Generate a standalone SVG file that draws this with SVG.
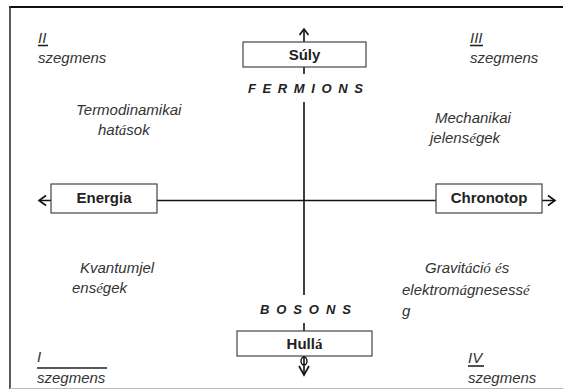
<svg xmlns="http://www.w3.org/2000/svg" width="563" height="391" viewBox="0 0 563 391">
<style>
.box{fill:#fff;stroke:#444;stroke-width:1.2}
.ax{stroke:#111;stroke-width:1.6;fill:none}
.bl{font-family:"Liberation Sans",Arial,sans-serif;font-weight:bold;font-size:15px;fill:#222}
.it{font-family:"Liberation Sans",Arial,sans-serif;font-style:italic;font-size:15px;fill:#333}
.acc{font-family:"Liberation Serif","Times New Roman",serif;font-style:italic}
.sp{font-family:"Liberation Sans",Arial,sans-serif;font-style:italic;font-weight:bold;font-size:13px;fill:#222}
.ul{stroke:#222;stroke-width:1.6}
</style>
<rect width="563" height="391" fill="#fff"/>
<g id="frame">
<line x1="9" y1="7" x2="563" y2="7" stroke="#111" stroke-width="2"/>
<line x1="10" y1="6" x2="10" y2="389" stroke="#333" stroke-width="1.6"/>
<line x1="10" y1="388.5" x2="563" y2="388.5" stroke="#bbb" stroke-width="1.2"/>
</g>
<g id="connectors">
<path class="ax" d="M304 29 V42 M304 67 V74 M304 102 V295 M304 323 V331 M304 356 V375"/>
<path class="ax" d="M299.5 35 L304 29 L308.5 35"/>
<path class="ax" d="M299 366 L304 375 L309 366"/>
<ellipse cx="304" cy="361" rx="3" ry="4" fill="none" stroke="#111" stroke-width="1.4"/>
<path class="ax" d="M157 200.5 H436 M39 200.5 H51 M542 200.5 H555"/>
<path class="ax" d="M46 195.5 L39 200.5 L46 205.5"/>
<path class="ax" d="M548 195.5 L555 200.5 L548 205.5"/>
</g>
<g id="suly">
<rect class="box" x="243" y="42" width="123" height="25"/>
<text class="bl" x="304.5" y="60" text-anchor="middle">Súly</text>
</g>
<g id="hulla">
<rect class="box" x="237" y="331" width="135" height="25"/>
<text class="bl" x="304.5" y="349" text-anchor="middle">Hull<tspan font-family="Liberation Serif,serif">á</tspan></text>
</g>
<g id="energia">
<rect class="box" x="51" y="184" width="106" height="29"/>
<text class="bl" x="104" y="203" text-anchor="middle">Energia</text>
</g>
<g id="chronotop">
<rect class="box" x="436" y="184" width="106" height="29"/>
<text class="bl" x="489" y="203" text-anchor="middle">Chronotop</text>
</g>
<g id="fermions"><text class="sp" x="248" y="93" letter-spacing="6.6">FERMIONS</text></g>
<g id="bosons"><text class="sp" x="260" y="314" letter-spacing="6.9">BOSONS</text></g>
<g id="seg2">
<text class="it" x="38" y="43">II</text>
<line class="ul" x1="38" y1="45.5" x2="48" y2="45.5"/>
<text class="it" x="38" y="63">szegmens</text>
</g>
<g id="seg3">
<text class="it" x="470" y="43">III</text>
<line class="ul" x1="470" y1="45.5" x2="483" y2="45.5"/>
<text class="it" x="470" y="63">szegmens</text>
</g>
<g id="seg1">
<text class="it" x="37" y="362">I</text>
<line class="ul" x1="37" y1="368" x2="107" y2="368"/>
<text class="it" x="37" y="383">szegmens</text>
</g>
<g id="seg4">
<text class="it" x="468" y="363">IV</text>
<line class="ul" x1="468" y1="366" x2="484" y2="366"/>
<text class="it" x="468" y="383">szegmens</text>
</g>
<g id="termo">
<text class="it" x="76" y="115">Termodinamikai</text>
<text class="it" x="98" y="135">hat<tspan class="acc">á</tspan>sok</text>
</g>
<g id="mech">
<text class="it" x="435" y="123">Mechanikai</text>
<text class="it" x="430" y="143">jelens<tspan class="acc">é</tspan>gek</text>
</g>
<g id="kvant">
<text class="it" x="80" y="273">Kvantumjel</text>
<text class="it" x="72" y="293">ens<tspan class="acc">é</tspan>gek</text>
</g>
<g id="grav">
<text class="it" x="425" y="273">Gravit<tspan class="acc">á</tspan>ci<tspan class="acc">ó</tspan> <tspan class="acc">é</tspan>s</text>
<text class="it" x="402" y="295">elektrom<tspan class="acc">á</tspan>gnesess<tspan class="acc">é</tspan></text>
<text class="it" x="402" y="316">g</text>
</g>
</svg>
